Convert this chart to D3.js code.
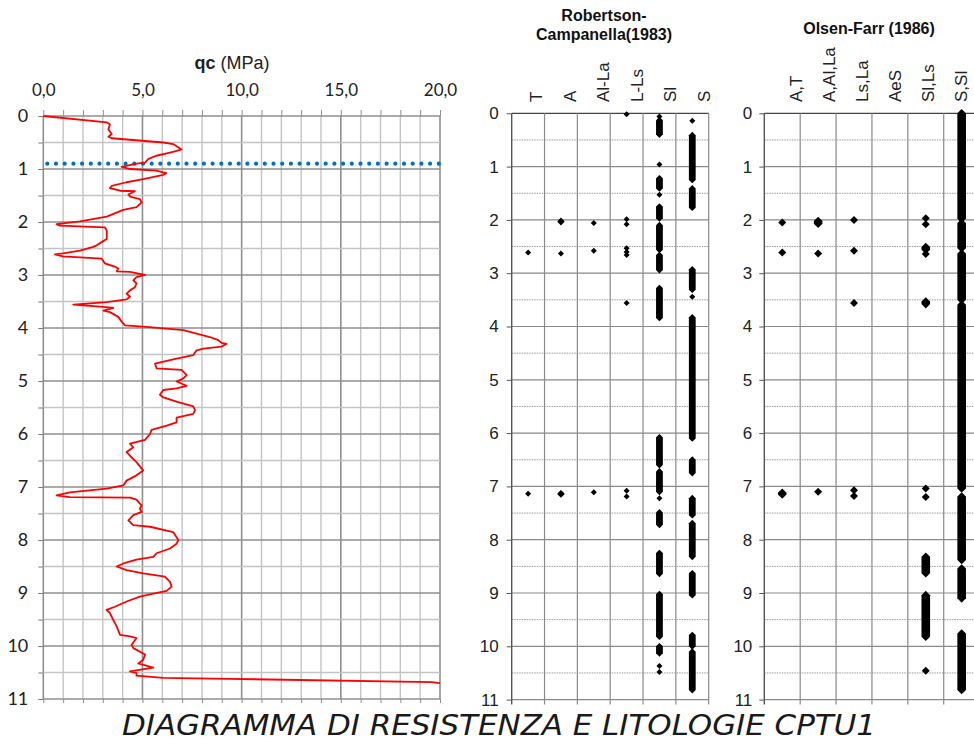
<!DOCTYPE html>
<html>
<head>
<meta charset="utf-8">
<script src="https://cdn.jsdelivr.net/npm/d3@7"></script>
<style>
  body { margin: 0; background: #fff; }
  svg { display: block; }
</style>
</head>
<body>
<svg id="chart" width="974" height="742"></svg>
<script>
// --- qc profile (depth m, qc MPa) ---
const qcDepth = [0, 0.12, 0.16, 0.25, 0.34, 0.39, 0.42, 0.5, 0.53, 0.63, 0.66, 0.69, 0.75, 0.81, 0.88, 0.9, 0.96, 1.0,
  1.03, 1.08, 1.11, 1.19, 1.25, 1.32, 1.36, 1.41, 1.42, 1.48, 1.52, 1.57, 1.63, 1.72, 1.77, 1.9, 1.99, 2.04, 2.07,
  2.1, 2.16, 2.32, 2.38, 2.44, 2.47, 2.54, 2.59, 2.61, 2.65, 2.69, 2.78, 2.84, 2.88, 2.93, 2.94, 3.0, 3.04, 3.1,
  3.16, 3.23, 3.29, 3.35, 3.41, 3.46, 3.51, 3.56, 3.6, 3.62, 3.67, 3.7, 3.79, 3.88, 3.95, 3.98, 4.04, 4.17, 4.23,
  4.28, 4.3, 4.35, 4.39, 4.42, 4.51, 4.59, 4.67, 4.76, 4.79, 4.89, 4.95, 5.01, 5.09, 5.14, 5.17, 5.26, 5.31, 5.39,
  5.48, 5.55, 5.62, 5.69, 5.78, 5.84, 5.92, 6.0, 6.11, 6.18, 6.25, 6.34, 6.41, 6.53, 6.69, 6.78, 6.88, 6.97, 7.03,
  7.1, 7.16, 7.19, 7.2, 7.24, 7.35, 7.41, 7.47, 7.53, 7.63, 7.72, 7.75, 7.85, 8.0, 8.07, 8.16, 8.25, 8.32, 8.37,
  8.43, 8.5, 8.57, 8.63, 8.69, 8.79, 8.88, 8.96, 9.01, 9.07, 9.16, 9.26, 9.32, 9.38, 9.51, 9.63, 9.79, 9.82, 9.85,
  9.98, 10.04, 10.16, 10.26, 10.33, 10.41, 10.48, 10.51, 10.56, 10.6, 10.62, 10.68, 10.7];
const qcValue = [0, 3.2, 3.36, 3.28, 3.45, 3.28, 3.45, 6.05, 6.55, 6.97, 6.72, 6.39, 5.7, 5.3, 5.13, 4.7, 3.95, 4.37,
  5.7, 6.2, 6.05, 5.04, 4.2, 3.45, 3.36, 3.87, 4.62, 4.29, 4.37, 4.87, 4.96, 4.7, 4.03, 3.2, 1.85, 0.67, 0.84,
  3.1, 3.2, 3.2, 2.94, 2.69, 2.52, 1.85, 1.0, 0.59, 1.0, 2.94, 3.1, 3.6, 3.78, 3.7, 4.37, 5.13, 4.7, 4.54,
  4.7, 4.62, 4.37, 4.2, 4.37, 4.2, 3.2, 1.51, 3.03, 3.53, 3.03, 3.36, 3.78, 3.95, 4.12, 5.2, 7.06, 8.4, 8.82,
  8.99, 9.24, 8.99, 8.07, 7.73, 7.56, 6.55, 5.63, 5.71, 6.97, 7.23, 7.06, 6.72, 7.23, 6.72, 6.05, 5.88, 6.05, 6.72,
  7.56, 7.65, 7.56, 6.72, 6.72, 6.22, 5.46, 5.38, 5.13, 4.37, 4.54, 4.2, 4.37, 4.7, 5.04, 4.7, 4.2, 4.03, 3.2,
  1.34, 0.67, 1.34, 4.37, 4.7, 4.96, 4.87, 4.96, 4.54, 4.29, 4.54, 5.38, 6.55, 6.81, 6.72, 6.39, 5.71, 5.55, 4.7,
  4.12, 3.7, 4.2, 5.04, 6.13, 6.39, 6.47, 6.22, 5.55, 4.87, 4.2, 3.61, 3.19, 3.36, 3.53, 3.7, 3.87, 4.37, 4.7,
  4.45, 4.54, 5.13, 5.04, 4.79, 5.55, 4.37, 4.7, 4.7, 6.05, 9.41, 19.6, 20];
const qcTicks = [0, 5, 10, 15, 20];
const depthTicks = [0, 1, 2, 3, 4, 5, 6, 7, 8, 9, 10, 11];
const waterLevel = 0.9;

// --- Robertson-Campanella (1983): depth ranges [top, bottom] per class ---
const rcColumns = ["T", "A", "Al-La", "L-Ls", "Sl", "S"];
const rcT = [[2.61, 2.61], [7.14, 7.14]];
const rcA = [[2.02, 2.04], [2.63, 2.63], [7.13, 7.15]];
const rcAlLa = [[2.06, 2.06], [2.58, 2.58], [7.11, 7.11]];
const rcLLs = [[0.02, 0.02], [1.99, 1.99], [2.08, 2.08], [2.53, 2.53], [2.6, 2.6], [2.66, 2.66], [3.56, 3.56],
  [7.08, 7.08], [7.19, 7.19]];
const rcSl = [[0.06, 0.06], [0.13, 0.4], [0.96, 0.96], [1.22, 1.41], [1.53, 1.53], [1.75, 1.97], [2.1, 2.56],
  [2.66, 2.94], [3.28, 3.84], [6.08, 6.6], [6.72, 7.1], [7.22, 7.22], [7.49, 7.72], [8.25, 8.64], [9.02, 9.82],
  [10.0, 10.13], [10.37, 10.37], [10.48, 10.48]];
const rcS = [[0.14, 0.14], [0.41, 1.25], [1.41, 1.77], [2.93, 3.31], [3.44, 3.44], [3.83, 6.1], [6.5, 6.75],
  [7.22, 7.54], [7.69, 8.32], [8.63, 9.04], [9.79, 10.0], [10.1, 10.82]];
const rcData = [rcT, rcA, rcAlLa, rcLLs, rcSl, rcS];

// --- Olsen-Farr (1986) ---
const ofColumns = ["A,T", "A,Al,La", "Ls,La", "AeS", "Sl,Ls", "S,Sl"];
const ofAT = [[2.05, 2.05], [2.61, 2.61], [7.12, 7.15]];
const ofAAlLa = [[2.02, 2.07], [2.63, 2.63], [7.1, 7.1]];
const ofLsLa = [[2.0, 2.0], [2.58, 2.58], [3.56, 3.56], [7.07, 7.07], [7.18, 7.18]];
const ofAeS = [];
const ofSlLs = [[1.97, 1.97], [2.08, 2.08], [2.51, 2.56], [2.64, 2.64], [3.53, 3.58], [7.04, 7.04], [7.2, 7.2],
  [8.32, 8.63], [9.04, 9.82], [10.46, 10.46]];
const ofSSl = [[0, 1.98], [2.06, 2.53], [2.63, 3.5], [3.59, 7.04], [7.19, 8.38], [8.54, 9.1], [9.76, 10.82]];
const ofData = [ofAT, ofAAlLa, ofLsLa, ofAeS, ofSlLs, ofSSl];

const svg = d3.select("#chart");
const fmtComma = d => d.toFixed(1).replace(".", ",");

// --- 1. qc chart ---
function drawQc() {
  const x = d3.scaleLinear().domain([0, 20]).range([43.3, 440]);
  const y = d3.scaleLinear().domain([0, 11]).range([116, 699]);
  const g = svg.append("g");

  // grid
  d3.range(0, 21).forEach(v => {
    g.append("line")
      .attr("x1", x(v)).attr("x2", x(v)).attr("y1", y(0)).attr("y2", y(11))
      .attr("stroke", v % 5 === 0 ? "#8f8f8f" : "#c4c4c4").attr("stroke-width", v % 5 === 0 ? 1.6 : 1.4);
  });
  d3.range(0, 11.5, 0.5).forEach(v => {
    g.append("line")
      .attr("x1", x(0)).attr("x2", x(20)).attr("y1", y(v)).attr("y2", y(v))
      .attr("stroke", v % 1 === 0 ? "#8f8f8f" : "#c4c4c4").attr("stroke-width", v % 1 === 0 ? 1.6 : 1.4);
  });

  // small ticks
  g.append("g").attr("transform", `translate(0,${y(0)})`)
    .call(d3.axisTop(x).tickValues(d3.range(0, 21)).tickSize(6).tickFormat(""))
    .call(a => a.select(".domain").remove())
    .call(a => a.selectAll("line").attr("stroke", "#8f8f8f"));
  g.append("g").attr("transform", `translate(0,${y(11)})`)
    .call(d3.axisBottom(x).tickValues(d3.range(0, 21)).tickSize(4).tickFormat(""))
    .call(a => a.select(".domain").remove())
    .call(a => a.selectAll("line").attr("stroke", "#8f8f8f"));
  g.append("g").attr("transform", `translate(${x(0)},0)`)
    .call(d3.axisLeft(y).tickValues(d3.range(0, 11.5, 0.5)).tickSize(5).tickFormat(""))
    .call(a => a.select(".domain").remove())
    .call(a => a.selectAll("line").attr("stroke", "#7a7a7a"));

  // labels
  g.append("g").attr("transform", `translate(0,${y(0)})`)
    .call(d3.axisTop(x).tickValues(qcTicks).tickSize(0).tickPadding(20).tickFormat(fmtComma))
    .call(a => a.select(".domain").remove())
    .call(a => a.selectAll("text").attr("font-family", "Lato, 'Open Sans', sans-serif")
      .attr("font-size", 17).attr("fill", "#222"));
  g.append("g").attr("transform", `translate(${x(0)},0)`)
    .call(d3.axisLeft(y).tickValues(depthTicks).tickSize(0).tickPadding(15))
    .call(a => a.select(".domain").remove())
    .call(a => a.selectAll("text").attr("font-family", "Lato, 'Open Sans', sans-serif")
      .attr("font-size", 18).attr("fill", "#222"));

  const title = g.append("text").attr("x", 232).attr("y", 69).attr("text-anchor", "middle")
    .attr("font-family", "Liberation Sans, Arial, sans-serif").attr("font-size", 18).attr("fill", "#222");
  title.append("tspan").attr("font-weight", "bold").text("qc");
  title.append("tspan").text(" (MPa)");

  // water level
  g.append("line")
    .attr("x1", x(0) + 4).attr("x2", x(20)).attr("y1", y(waterLevel)).attr("y2", y(waterLevel))
    .attr("stroke", "#0070c0").attr("stroke-width", 4.2).attr("stroke-linecap", "round")
    .attr("stroke-dasharray", "0 8.7");

  // qc curve
  const pts = qcDepth.map((d, i) => [qcValue[i], d]);
  g.append("path").datum(pts)
    .attr("fill", "none").attr("stroke", "#ff0000").attr("stroke-width", 1.8).attr("stroke-linejoin", "round")
    .attr("d", d3.line().x(p => x(p[0])).y(p => y(p[1])));
}

// --- 2. lithology charts ---
function drawLitho(opt) {
  const x = d3.scaleBand().domain(opt.columns).range([opt.x0, opt.x1]);
  const y = d3.scaleLinear().domain([0, 11]).range([113.3, 699.6]);
  const g = svg.append("g");
  const edges = d3.range(0, opt.columns.length + 1).map(i => opt.x0 + i * x.bandwidth());

  // dotted half-metre lines
  d3.range(0.5, 11, 1).forEach(v => {
    g.append("line").attr("x1", opt.x0).attr("x2", opt.x1).attr("y1", y(v)).attr("y2", y(v))
      .attr("stroke", "#9a9a9a").attr("stroke-width", 1).attr("stroke-dasharray", "1.5 1");
  });
  depthTicks.forEach(v => {
    g.append("line").attr("x1", opt.x0).attr("x2", opt.x1).attr("y1", y(v)).attr("y2", y(v))
      .attr("stroke", v === 0 ? "#444" : "#8a8a8a").attr("stroke-width", 1.2);
  });
  edges.forEach((e, i) => {
    g.append("line").attr("x1", e).attr("x2", e).attr("y1", y(0)).attr("y2", y(11) + 5)
      .attr("stroke", i === 0 ? "#555" : "#8a8a8a").attr("stroke-width", i === 0 ? 1.4 : 1.2);
  });

  g.append("g").attr("transform", `translate(${opt.x0},0)`)
    .call(d3.axisLeft(y).tickValues(depthTicks).tickSize(5).tickPadding(opt.pad))
    .call(a => a.select(".domain").remove())
    .call(a => a.selectAll("line").attr("stroke", "#555"))
    .call(a => a.selectAll("text").attr("font-family", "Liberation Sans, Arial, sans-serif")
      .attr("font-size", 17).attr("fill", "#222"));

  // column labels
  const lx = d3.scaleLinear().domain([0, opt.columns.length - 1]).range(opt.labelRange);
  opt.columns.forEach((c, i) => {
    g.append("text").attr("transform", `translate(${lx(i)},102) rotate(-90)`)
      .attr("font-family", "Liberation Sans, Arial, sans-serif").attr("font-size", 17).attr("fill", "#222")
      .text(c);
  });

  // header
  opt.title.forEach((t, i) => {
    g.append("text").attr("x", opt.titleX).attr("y", opt.titleY + i * 19).attr("text-anchor", "middle")
      .attr("font-family", "Liberation Sans, Arial, sans-serif").attr("font-weight", "bold")
      .attr("font-size", 16).attr("fill", "#111").text(t);
  });

  // marks: runs of diamonds drawn as diamond-ended bars
  const cx = c => x(c) + x.bandwidth() / 2;
  opt.data.forEach((ranges, ci) => {
    const c = opt.columns[ci];
    g.selectAll(null).data(ranges).enter().append("path")
      .attr("fill", "#000")
      .attr("d", r => {
        const h = r[0] === r[1] ? opt.dot : opt.bar;
        const ya = y(r[0]), yb = y(r[1]), xc = cx(c);
        return `M${xc},${ya - h}L${xc + h},${ya}L${xc + h},${yb}L${xc},${yb + h}L${xc - h},${yb}L${xc - h},${ya}Z`;
      });
  });
}

drawQc();
drawLitho({
  columns: rcColumns, data: rcData, x0: 511.7, x1: 708.7, pad: 8,
  labelRange: [542, 710], title: ["Robertson-", "Campanella(1983)"], titleX: 604, titleY: 21,
  dot: 3, bar: 3.4
});
drawLitho({
  columns: ofColumns, data: ofData, x0: 764.3, x1: 979.6, pad: 7,
  labelRange: [802, 967], title: ["Olsen-Farr (1986)"], titleX: 869, titleY: 34,
  dot: 4, bar: 4.3
});

// --- 3. caption ---
svg.append("text").attr("x", 122).attr("y", 735)
  .attr("font-family", "'Liberation Sans Narrow', 'DejaVu Sans Condensed', sans-serif")
  .attr("font-style", "italic").attr("font-size", 29).attr("fill", "#1a1a1a")
  .attr("textLength", 754).attr("lengthAdjust", "spacingAndGlyphs")
  .text("DIAGRAMMA DI RESISTENZA E LITOLOGIE CPTU1");
</script>
</body>
</html>
